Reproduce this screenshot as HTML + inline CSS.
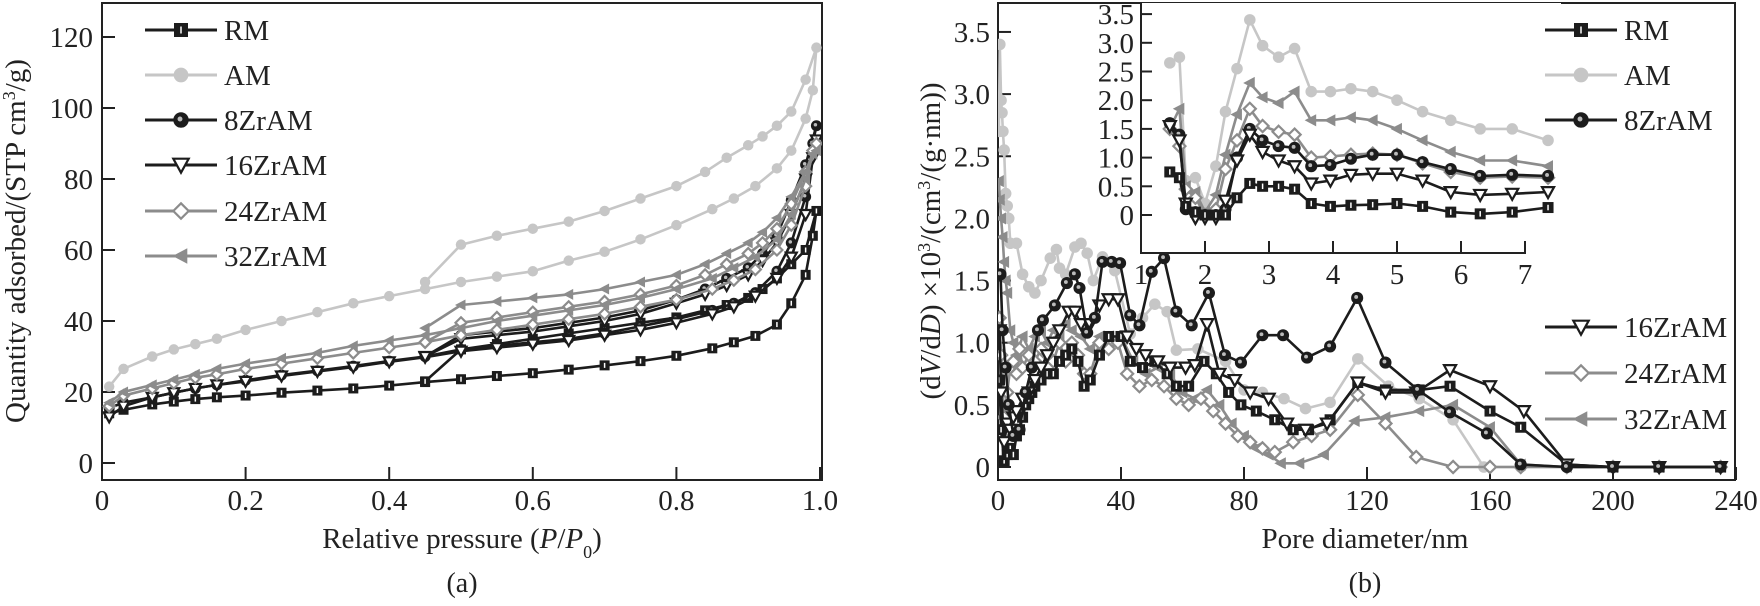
<!DOCTYPE html>
<html><head><meta charset="utf-8"><style>
html,body{margin:0;padding:0;background:#fff;width:1760px;height:606px;overflow:hidden}
svg text{font-family:"Liberation Serif",serif;fill:#222}
</style></head><body>
<svg id="fig" width="1760" height="606" viewBox="0 0 1760 606" xmlns="http://www.w3.org/2000/svg">
<defs>
<clipPath id="clipL"><rect x="102" y="3" width="720" height="477"/></clipPath>
<clipPath id="clipR"><rect x="998" y="3" width="737" height="477"/></clipPath>
</defs>
<g id="panelA"></g>
<g id="panelB"></g>
<text x="25" y="241" font-size="29" text-anchor="middle" transform="rotate(-90 25 241)">Quantity adsorbed/(STP cm<tspan baseline-shift="super" font-size="18">3</tspan>/g)</text>
<text x="462" y="548" font-size="29" text-anchor="middle">Relative pressure (<tspan font-style="italic">P</tspan>/<tspan font-style="italic">P</tspan><tspan baseline-shift="sub" font-size="18">0</tspan>)</text>
<text x="462" y="592" font-size="28" text-anchor="middle">(a)</text>
<text x="940" y="241" font-size="29" text-anchor="middle" transform="rotate(-90 940 241)">(d<tspan font-style="italic">V</tspan>/d<tspan font-style="italic">D</tspan>) ×10<tspan baseline-shift="super" font-size="18">3</tspan>/(cm<tspan baseline-shift="super" font-size="18">3</tspan>/(g·nm))</text>
<text x="1365" y="548" font-size="29" text-anchor="middle">Pore diameter/nm</text>
<text x="1365" y="592" font-size="28" text-anchor="middle">(b)</text>
</svg>
<script>
// ---------- Panel (a) data ----------
const pAds = [0.01,0.03,0.07,0.1,0.13,0.16,0.2,0.25,0.3,0.35,0.4,0.45,0.5,0.55,0.6,0.65,0.7,0.75,0.8,0.85,0.88,0.91,0.94,0.96,0.98,0.99];
const pDes = [0.995,0.98,0.96,0.94,0.92,0.9,0.87,0.84,0.8,0.75,0.7,0.65,0.6,0.55,0.5,0.45];
const rmAds = [14,15,16.5,17.3,18,18.5,19,19.8,20.4,21,21.8,22.8,23.6,24.5,25.3,26.3,27.5,28.7,30.2,32.3,34,35.8,39,45,53,64];
const rmDes = [71,60,56,52,49,46.5,44.5,43,41,39.5,38,36.5,35,33.5,32,23];
const amAds = [21.5,26.5,30,32,33.5,35,37.5,40,42.5,45,47,49,51,52.5,54,57,59.5,63,67,71.5,74.5,78,83,88,97,105];
const amDes = [117,108,99,95,92,89.5,86,82,78,74.5,71,68,66,64,61.5,51];
const zr8Ads = [15.5,17,18.5,19.8,21,22,23.3,24.8,26,27.3,28.7,30,32,33,34,35,36.5,38.5,40.5,43,45,48,54,62,75,90];
const zr8Des = [95,84,74,64,59,55,52,49,46,43,41,39.5,38,37,36,30];
const zr16Ads = [13,16,18.5,19.8,21,22,23,24.5,25.8,27,28.5,29.8,31.5,32.5,33.5,34.5,36,37.5,39.5,42,44,47,52,58,70,86];
const zr16Des = [91,80,70,62,57,53,50,47.5,45,42,40,38.5,37,36,35,30];
const zr24Ads = [16,19,21,22.5,24,25,26.5,28,29.5,31,32.5,34,36,37.5,39,40.5,42,44,46,49,51.5,54.5,60,67,78,88];
const zr24Des = [90,82,73,66,62,59,56,53,50,47.5,45.5,44,42.5,41,39.5,34];
const zr32Ads = [17,20,22,23.5,25,26.5,28,29.5,31,33,34.5,36,38,40,41.5,43,44.5,46.5,49,52,55,58,63,70,80,87];
const zr32Des = [88,82,75,69,65,62,59,56,53,51,49,47.5,46.5,45.5,44.5,38];
const tickA_x = [0,0.2,0.4,0.6,0.8,1.0];
const tickA_xLabels = ["0","0.2","0.4","0.6","0.8","1.0"];
const tickA_y = [0,20,40,60,80,100,120];

// ---------- Panel (b) data ----------
const rmD = [0.5,1,2,3,4,5,6,7,8,9,10,11,12,14,16,18,20,22,24,26,28,30,33,36,40,43,47,51,55,58,62,67,71,75,79,84,90,96,101,108,117,126,137,147,160,170,185,200,215,235];
const rmV = [0.7,0.3,0.05,0.1,0.15,0.1,0.25,0.3,0.4,0.5,0.55,0.6,0.65,0.7,0.75,0.75,0.85,0.9,0.95,0.85,0.65,0.7,0.9,1.05,1.05,0.85,0.8,0.85,0.75,0.65,0.65,0.85,0.75,0.6,0.5,0.45,0.38,0.3,0.3,0.38,0.68,0.62,0.62,0.65,0.45,0.32,0.02,0,0,0];
const amD = [0.3,0.6,1,1.3,1.6,2,2.5,3,3.5,4,6,8,10,12,14,17,19,20,22,25,27,29,31,34,38,43,47,51,55,58,65,74,80,86,93,100,108,117,127,137,148,158,170,185,200,215,235];
const amV = [2.7,3.4,2.95,2.85,2.7,2.55,2.2,2.1,2.0,1.8,1.8,1.55,1.45,1.4,1.5,1.68,1.75,1.6,1.55,1.77,1.8,1.72,1.5,1.69,1.58,1.07,1.2,1.31,1.25,0.94,0.95,0.85,0.62,0.6,0.55,0.47,0.52,0.87,0.65,0.55,0.38,0,0,0,0,0,0];
const zr8D = [0.8,1.5,2.5,3.5,5,7,9,11,13,14.6,18.5,22.4,25,26.5,29,31.5,34,37,39.7,43,46,50,54,58,63,68.6,73.8,79,86,92.7,100.5,108,116.8,126,136.6,147,159,170,185,200,215,235];
const zr8V = [1.55,1.1,0.8,0.5,0.25,0.3,0.6,0.8,1.1,1.18,1.3,1.48,1.55,1.44,1.08,1.2,1.65,1.65,1.64,1.22,1.14,1.57,1.68,1.25,1.14,1.4,0.9,0.84,1.06,1.06,0.88,0.97,1.36,0.84,0.62,0.44,0.27,0.02,0,0,0,0];
const zr16D = [0.5,1,2,3,4,5,6,8,10,12,14,16,18,20,23,25,27,30,33,36,39,42,45,48,52,56,61,64,68,72,77,82,88,94,100,107,117,126,136,147,160,171,185,200,215,235];
const zr16V = [1.1,0.6,0.2,0.35,0.3,0.4,0.45,0.55,0.6,0.7,0.8,0.9,1.0,1.1,1.25,1.25,1.15,1.15,1.3,1.35,1.35,1.05,0.95,0.9,0.85,0.8,0.8,0.82,1.15,0.75,0.7,0.6,0.55,0.35,0.3,0.35,0.68,0.6,0.6,0.78,0.65,0.45,0.02,0,0,0];
const zr24D = [0.5,1,2,3,4,5,6,7,8,10,12,14,16,18,20,22,24,26,28,30,33,36,39,42,46,50,54,58,62,66,70,74,78,82,86,90,96,102,108,117,126,136,148,160,170,185,200,215,235];
const zr24V = [1.2,0.9,0.4,0.6,0.8,0.85,0.75,0.95,0.8,0.9,0.85,0.95,0.9,0.85,1.0,0.85,1.0,0.9,0.75,0.75,1.0,0.95,1.0,0.75,0.65,0.7,0.65,0.55,0.5,0.55,0.45,0.35,0.25,0.2,0.15,0.12,0.2,0.25,0.3,0.58,0.35,0.08,0,0,0,0,0,0,0];
const zr32D = [0.3,0.6,1,1.5,2,2.5,3,4,5,6,8,10,12,14,16,18,20,22,24,27,30,33,36,40,44,48,52,56,60,64,68,72,76,80,84,88,92,98,106,116,126,137,148,160,170,185,200,215,235];
const zr32V = [2.3,2.15,2.0,1.85,1.65,1.5,1.4,1.1,1.0,0.9,1.05,0.95,1.05,1.1,1.0,1.1,1.05,1.15,1.1,1.05,0.95,1.05,1.05,1.05,0.85,0.75,0.8,0.75,0.6,0.55,0.62,0.5,0.35,0.25,0.15,0.1,0.03,0.03,0.1,0.37,0.4,0.45,0.5,0.32,0.02,0,0,0,0];
const tickB_x = [0,40,80,120,160,200,240];
const tickB_y = [0,0.5,1.0,1.5,2.0,2.5,3.0,3.5];
const tickB_yLabels = ["0","0.5","1.0","1.5","2.0","2.5","3.0","3.5"];

// ---------- Inset data ----------
const insD = [1.45,1.6,1.7,1.85,2.0,2.17,2.32,2.5,2.7,2.9,3.15,3.4,3.66,3.96,4.28,4.62,5.0,5.4,5.84,6.3,6.8,7.36];
const insRM = [0.75,0.65,0.15,0.05,0,0,0,0.3,0.55,0.5,0.5,0.45,0.2,0.15,0.17,0.18,0.2,0.15,0.05,0.02,0.05,0.13];
const insAM = [2.65,2.75,0.6,0.65,0.2,0.85,1.8,2.55,3.4,2.95,2.75,2.9,2.15,2.15,2.2,2.15,2.0,1.8,1.65,1.5,1.5,1.3];
const ins8 = [1.6,1.4,0.1,0.05,0,0,0.1,1.0,1.5,1.3,1.2,1.17,0.85,0.87,0.98,1.05,1.05,0.92,0.8,0.68,0.7,0.68];
const ins16 = [1.55,1.3,0.2,-0.05,-0.05,-0.05,0.25,0.95,1.4,1.1,0.95,0.85,0.55,0.6,0.7,0.72,0.72,0.6,0.4,0.35,0.37,0.4];
const ins24 = [1.5,1.2,0.45,0.3,0,0.1,0.8,1.3,1.85,1.55,1.45,1.4,1.0,1.02,1.05,1.07,1.05,0.9,0.75,0.65,0.67,0.65];
const ins32 = [1.5,1.85,0.5,0.4,0.05,0.35,1.05,1.75,2.3,2.05,1.95,2.15,1.65,1.65,1.7,1.65,1.5,1.3,1.1,0.95,0.95,0.85];
const insTickX = [1,2,3,4,5,6,7];
const insTickY = [0,0.5,1.0,1.5,2.0,2.5,3.0,3.5];
const insTickYLabels = ["0","0.5","1.0","1.5","2.0","2.5","3.0","3.5"];

const seriesNames = ["RM","AM","8ZrAM","16ZrAM","24ZrAM","32ZrAM"];

// ---------- axes ----------
const xA = p => 102 + p*718;
const yA = q => 463 - q*3.55;
const xB = d => 998 + d*3.075;
const yB = v => 467 - v*124.3;
const xI = d => 1141 + (d-1)*64;
const yI = v => 215 - v*57.4;

const NS = "http://www.w3.org/2000/svg";
const BLACK = "#1c1c1c", LIGHT = "#c6c6c6", GRAY = "#8c8c8c";
const styles = {
  "RM":{c:BLACK,m:"square"}, "AM":{c:LIGHT,m:"circle"}, "8ZrAM":{c:BLACK,m:"ball"},
  "16ZrAM":{c:BLACK,m:"tri"}, "24ZrAM":{c:GRAY,m:"diamond"}, "32ZrAM":{c:GRAY,m:"left"}
};
function mk(tag, attrs, parent){
  const e = document.createElementNS(NS, tag);
  for (const k in attrs) e.setAttribute(k, attrs[k]);
  parent.appendChild(e); return e;
}
function marker(parent, x, y, style, s){
  const c = style.c; let e;
  if (style.m==="square"){
    e = mk("g",{},parent);
    mk("rect",{x:x-s,y:y-s,width:2*s,height:2*s,fill:c},e);
    mk("line",{x1:x,y1:y-s*0.5,x2:x,y2:y+s*0.5,stroke:"#fff","stroke-width":1.5},e);
  } else if (style.m==="circle"){
    e = mk("circle",{cx:x,cy:y,r:s*1.05,fill:c},parent);
  } else if (style.m==="ball"){
    e = mk("g",{},parent);
    mk("circle",{cx:x,cy:y,r:s*1.1,fill:c},e);
    mk("circle",{cx:x-1,cy:y-1,r:s*0.35,fill:"#bbb"},e);
  } else if (style.m==="tri"){
    e = mk("polygon",{points:`${x-s*1.1},${y-s*0.9} ${x+s*1.1},${y-s*0.9} ${x},${y+s*1.1}`,fill:"#fff",stroke:c,"stroke-width":2.2},parent);
  } else if (style.m==="diamond"){
    e = mk("polygon",{points:`${x},${y-s*1.1} ${x+s*1.1},${y} ${x},${y+s*1.1} ${x-s*1.1},${y}`,fill:"#fff",stroke:c,"stroke-width":2.2},parent);
  } else {
    e = mk("polygon",{points:`${x-s*1.2},${y} ${x+s*0.9},${y-s*1.1} ${x+s*0.9},${y+s*1.1}`,fill:c},parent);
  }
  return e;
}
function series(parent, xs, ys, fx, fy, name, s, lw){
  const st = styles[name];
  const g = mk("g",{},parent);
  
  
  const pts = xs.map((x,i)=>fx(x).toFixed(1)+","+fy(ys[i]).toFixed(1)).join(" ");
  const pl = mk("polyline",{points:pts,fill:"none",stroke:st.c,"stroke-width":lw,"stroke-linejoin":"round"},g);
  
  
  xs.forEach((x,i)=>{
    const m = marker(g, fx(x), fy(ys[i]), st, s);
    
    
  });
}
function legend(parent, names, x0, ys){
  names.forEach((n,i)=>{
    const g = mk("g",{},parent);
    
    
    const st = styles[n];
    mk("line",{x1:x0,y1:ys[i],x2:x0+72,y2:ys[i],stroke:st.c,"stroke-width":3},g);
    marker(g, x0+36, ys[i], st, 7);
    const t = mk("text",{x:x0+79,y:ys[i]+10,"font-size":29},g);
    t.textContent = n;
  });
}

// ---------- Panel (a) ----------
const A = document.getElementById("panelA");
const frameA = mk("rect",{x:102,y:3,width:720,height:477,fill:"none",stroke:"#222","stroke-width":2},A);


tickA_y.forEach(v=>{
  const t = mk("line",{x1:102,y1:yA(v),x2:115,y2:yA(v),stroke:"#222","stroke-width":2},A);
  
  
  const l = mk("text",{x:93,y:yA(v)+10,"font-size":29,"text-anchor":"end"},A);
  
  
  l.textContent = v;
});
tickA_x.forEach((v,i)=>{
  const t = mk("line",{x1:xA(v),y1:480,x2:xA(v),y2:467,stroke:"#222","stroke-width":2},A);
  
  
  const l = mk("text",{x:xA(v),y:510,"font-size":29,"text-anchor":"middle"},A);
  
  
  l.textContent = tickA_xLabels[i];
});
const plotA = mk("g",{"clip-path":"url(#clipL)"},A);
const isoData = {"RM":[rmAds,rmDes],"AM":[amAds,amDes],"8ZrAM":[zr8Ads,zr8Des],"16ZrAM":[zr16Ads,zr16Des],"24ZrAM":[zr24Ads,zr24Des],"32ZrAM":[zr32Ads,zr32Des]};
["RM","8ZrAM","16ZrAM","24ZrAM","32ZrAM","AM"].forEach(n=>{
  series(plotA, pAds.concat(pDes), isoData[n][0].concat(isoData[n][1]), xA, yA, n, 5, 2.6);
});
legend(A, seriesNames, 145, [30,75,120,165,211,256]);

// ---------- Panel (b) ----------
const B = document.getElementById("panelB");
const frameB = mk("rect",{x:998,y:3,width:737,height:477,fill:"none",stroke:"#222","stroke-width":2},B);


tickB_y.forEach((v,i)=>{
  const t = mk("line",{x1:998,y1:yB(v),x2:1011,y2:yB(v),stroke:"#222","stroke-width":2},B);
  
  
  const l = mk("text",{x:990,y:yB(v)+10,"font-size":29,"text-anchor":"end"},B);
  
  
  l.textContent = tickB_yLabels[i];
});
tickB_x.forEach(v=>{
  const t = mk("line",{x1:xB(v),y1:480,x2:xB(v),y2:467,stroke:"#222","stroke-width":2},B);
  
  
  const l = mk("text",{x:xB(v),y:510,"font-size":29,"text-anchor":"middle"},B);
  
  
  l.textContent = v;
});
const plotB = mk("g",{"clip-path":"url(#clipR)"},B);
const psd = {"RM":[rmD,rmV],"AM":[amD,amV],"8ZrAM":[zr8D,zr8V],"16ZrAM":[zr16D,zr16V],"24ZrAM":[zr24D,zr24V],"32ZrAM":[zr32D,zr32V]};
["AM","32ZrAM","24ZrAM","RM","16ZrAM","8ZrAM"].forEach(n=>{
  series(plotB, psd[n][0], psd[n][1], xB, yB, n, 5.5, 2.6);
});

// ---------- Inset ----------
const I = mk("g",{},B);


mk("rect",{x:1141,y:3,width:420,height:250,fill:"#fff"},I);
const ia = mk("polyline",{points:"1141,3 1141,253 1525,253 1525,241",fill:"none",stroke:"#222","stroke-width":2},I);


insTickY.forEach((v,i)=>{
  const t = mk("line",{x1:1141,y1:yI(v),x2:1152,y2:yI(v),stroke:"#222","stroke-width":2},I);
  
  
  const l = mk("text",{x:1134,y:yI(v)+10,"font-size":29,"text-anchor":"end"},I);
  
  
  l.textContent = insTickYLabels[i];
});
insTickX.forEach(v=>{
  const t = mk("line",{x1:xI(v),y1:253,x2:xI(v),y2:241,stroke:"#222","stroke-width":2},I);
  
  
  const l = mk("text",{x:xI(v),y:284,"font-size":29,"text-anchor":"middle"},I);
  
  
  l.textContent = v;
});
const insData = {"RM":insRM,"AM":insAM,"8ZrAM":ins8,"16ZrAM":ins16,"24ZrAM":ins24,"32ZrAM":ins32};
["AM","32ZrAM","24ZrAM","8ZrAM","16ZrAM","RM"].forEach(n=>{
  series(I, insD, insData[n], xI, yI, n, 5.5, 2.6);
});
legend(B, ["RM","AM","8ZrAM"], 1545, [30,75,120]);
legend(B, ["16ZrAM","24ZrAM","32ZrAM"], 1545, [327,373,419]);
</script>
</body></html>
